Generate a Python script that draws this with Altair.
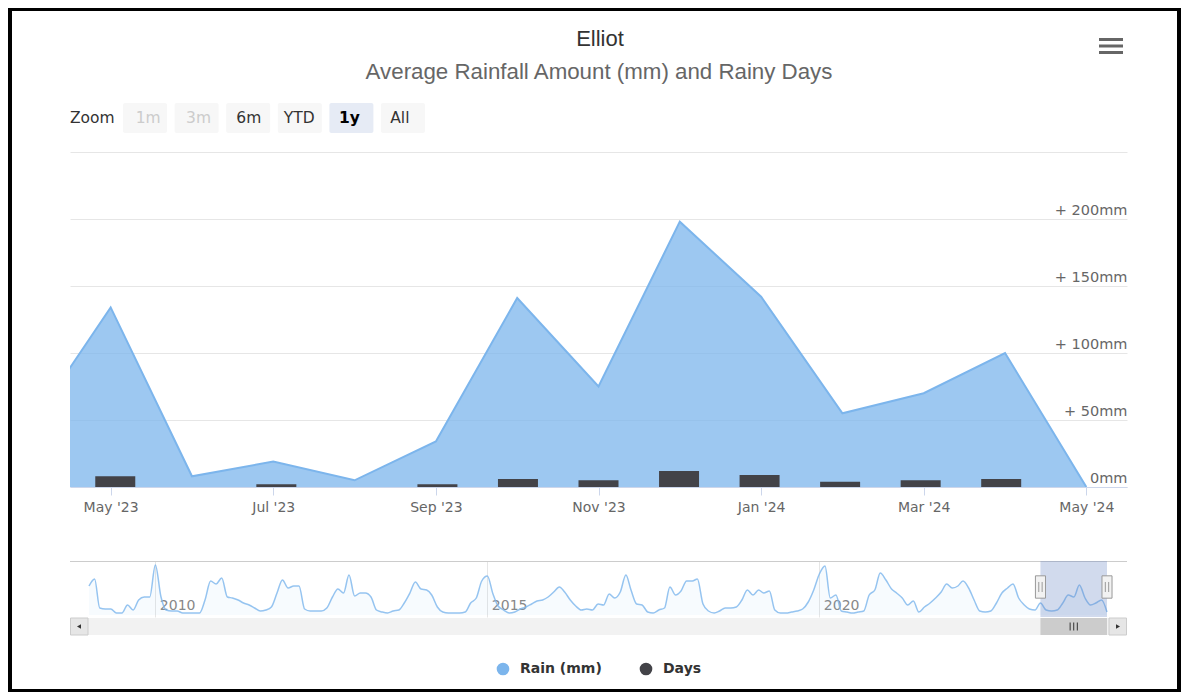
import json
import pandas as pd
import altair as alt

# ---------------- data ----------------
title_text = "Elliot"
subtitle_text = "Average Rainfall Amount (mm) and Rainy Days"

month_labels = ["Apr '23", "May '23", "Jun '23", "Jul '23", "Aug '23", "Sep '23", "Oct '23",
                "Nov '23", "Dec '23", "Jan '24", "Feb '24", "Mar '24", "Apr '24", "May '24"]
month_index = list(range(-1, 13))
rain_mm = [44, 134, 8, 19, 5, 34, 141, 75, 198, 142, 55, 70, 100, 0]
rainy_days = [None, 8, 0, 2, 0, 2, 6, 5, 12, 9, 4, 5, 6, 0]
x_tick_index = [0, 2, 4, 6, 8, 10, 12]
y_tick_values = [0, 50, 100, 150, 200, 250]

series_names = ["Rain (mm)", "Days"]
series_colors = ["#7cb5ec", "#434348"]

nav_start = "2009-01-01"
nav_end = "2024-05-01"
nav_rain = [
    145, 180, 35, 30, 30, 10, 10, 50, 25, 75, 90, 90,        # 2009
    250, 90, 25, 20, 20, 10, 10, 10, 10, 75, 170, 155,      # 2010
    185, 90, 85, 75, 60, 50, 35, 20, 25, 40, 110, 175,      # 2011
    135, 145, 145, 30, 20, 20, 20, 35, 90, 130, 110, 200,   # 2012
    95, 110, 110, 90, 25, 15, 10, 20, 25, 60, 110, 165,     # 2013
    130, 125, 100, 40, 15, 10, 10, 10, 15, 60, 85, 170,     # 2014
    195, 105, 45, 25, 10, 15, 30, 40, 55, 70, 75, 90,       # 2015
    115, 140, 115, 75, 45, 25, 30, 25, 55, 50, 105, 85,     # 2016
    115, 200, 125, 55, 50, 15, 10, 25, 35, 140, 100, 120,   # 2017
    170, 170, 180, 55, 20, 10, 20, 35, 35, 40, 75, 125,     # 2018
    100, 125, 110, 120, 25, 10, 10, 15, 20, 30, 65, 125,    # 2019
    205, 245, 85, 100, 20, 15, 10, 15, 20, 100, 125, 210,   # 2020
    175, 130, 110, 85, 50, 70, 15, 40, 60, 85, 115, 155,    # 2021
    135, 145, 170, 135, 75, 20, 15, 20, 60, 110, 135, 155,  # 2022
    85, 50, 30, 25, 60, 25, 20, 25, 60, 100, 90, 150,       # 2023
    85, 50, 60, 75, 15,                                     # 2024
]
nav_year_ticks = [2010, 2015, 2020]
sel_start = "2023-05-01"
sel_end = "2024-05-01"

zoom_label = "Zoom"
zoom_buttons = ["1m", "3m", "6m", "YTD", "1y", "All"]
disabled_buttons = ["1m", "3m"]
selected_button = "1y"

# ---------------- frames ----------------
main_df = pd.DataFrame({"mi": month_index, "label": month_labels,
                        "rain": rain_mm, "days": rainy_days})
nav_dates = pd.date_range(nav_start, nav_end, freq="MS")
nav_df = pd.DataFrame({"date": nav_dates, "rain": nav_rain})
sel_df = pd.DataFrame({"start": [sel_start], "end": [sel_end]})
handle_df = pd.DataFrame({"date": [sel_start, sel_end]})
btn_df = pd.DataFrame({"b": zoom_buttons})
dummy = pd.DataFrame({"k": [0]})


def dt(s):
    t = pd.Timestamp(s)
    return alt.DateTime(year=t.year, month=t.month, date=t.day)


W, H = 1057, 335
PAD = {"left": 62, "top": 144, "right": 54, "bottom": 205}
FONT = "DejaVu Sans"

# ---------------- scales / axes ----------------
x_main = alt.Scale(domain=[-0.5, 12.5], range=[0, W])
y_main = alt.Scale(domain=[0, 250], range=[H, 0])
x_nav = alt.Scale(domain=[dt(nav_start), dt(nav_end)], range=[19, 1037])
y_nav = alt.Scale(domain=[-10, 270], range=[465, 409])
color_scale = alt.Scale(domain=series_names, range=series_colors)

x_axis = alt.Axis(values=x_tick_index, labelExpr=json.dumps(month_labels) + "[datum.value + 1]",
                  title=None, grid=False, domainColor="#ccd6eb", tickColor="#ccd6eb",
                  tickSize=8, labelPadding=5, labelFontSize=14, labelColor="#666666",
                  labelOverlap=False, labelFlush=False)
y_axis = alt.Axis(orient="left", offset=-W, values=y_tick_values,
                  labelExpr="datum.value == 250 ? '' : (datum.value == 0 ? '0mm' : '+ ' + datum.value + 'mm')",
                  title=None, grid=True, gridColor="#e6e6e6", domain=False, ticks=False,
                  tickSize=0, labelPadding=0, labelAlign="right", labelBaseline="alphabetic",
                  labelOffset=-5, labelFontSize=14.5, labelColor="#666666")
nav_axis = alt.Axis(orient="top", offset=-465,
                    values=[alt.DateTime(year=y, month=1, date=1) for y in nav_year_ticks],
                    format="%Y", title=None, grid=True, gridColor="#e6e6e6", domain=False,
                    ticks=False, tickSize=0, labelAlign="left", labelBaseline="bottom",
                    labelPadding=5, labelOffset=4, labelFontSize=14, labelColor="#888888",
                    labelFlush=False, labelOverlap=False)
legend = alt.Legend(orient="none", legendX=426, legendY=510, direction="horizontal", title=None,
                    symbolType="circle", symbolSize=160, symbolOpacity=1, symbolStrokeWidth=0,
                    labelFont=FONT, labelFontSize=14, labelFontWeight="bold",
                    labelColor="#333333", columnPadding=37, labelOffset=10, padding=0)

# ---------------- main chart ----------------
area = alt.Chart(main_df).transform_calculate(series=f"'{series_names[0]}'").mark_area(
    fillOpacity=0.75, clip=True).encode(
    x=alt.X("mi:Q", scale=x_main, axis=x_axis),
    y=alt.Y("rain:Q", scale=y_main, axis=y_axis),
    color=alt.Color("series:N", scale=color_scale, legend=legend))

bars = alt.Chart(main_df).transform_filter("isValid(datum.days)").transform_calculate(
    series=f"'{series_names[1]}'").mark_bar(size=40, clip=True).encode(
    x=alt.X("mi:Q", scale=x_main, axis=None),
    y=alt.Y("days:Q", scale=y_main, axis=None),
    color=alt.Color("series:N", scale=color_scale, legend=legend))

line = alt.Chart(main_df).mark_line(color=series_colors[0], strokeWidth=2, clip=True).encode(
    x=alt.X("mi:Q", scale=x_main, axis=None),
    y=alt.Y("rain:Q", scale=y_main, axis=None))

# ---------------- navigator ----------------
nav_area = alt.Chart(nav_df).mark_area(interpolate="monotone", color="#7cb5ec",
                                        fillOpacity=0.06).encode(
    x=alt.X("date:T", scale=x_nav, axis=nav_axis),
    y=alt.Y("rain:Q", scale=y_nav, axis=None))
nav_line = alt.Chart(nav_df).mark_line(interpolate="monotone", color="#7cb5ec",
                                        strokeWidth=1.5, opacity=0.8).encode(
    x=alt.X("date:T", scale=x_nav, axis=None),
    y=alt.Y("rain:Q", scale=y_nav, axis=None))
nav_outline = alt.Chart(dummy).mark_rule(color="#cccccc", strokeWidth=1).encode(
    x=alt.value(0), x2=alt.value(W), y=alt.value(409.5))
mask = alt.Chart(sel_df).mark_rect(color="#6685c2", opacity=0.3).encode(
    x=alt.X("start:T", scale=x_nav, axis=None), x2="end:T",
    y=alt.value(409), y2=alt.value(465))

handle_path = "M-0.45,-1H0.45V1H-0.45Z"
grip_path = "M-0.15,-0.45V0.45M0.15,-0.45V0.45"
handles = alt.Chart(handle_df).mark_point(shape=handle_path, size=500, filled=True,
                                          fill="#f2f2f2", stroke="#999999", strokeWidth=1,
                                          opacity=1).encode(
    x=alt.X("date:T", scale=x_nav, axis=None), y=alt.value(435))
handle_grips = alt.Chart(handle_df).mark_point(shape=grip_path, size=500, filled=False,
                                               stroke="#999999", strokeWidth=1, opacity=1).encode(
    x=alt.X("date:T", scale=x_nav, axis=None), y=alt.value(435))

# ---------------- scrollbar ----------------
track = alt.Chart(dummy).mark_rect(color="#f2f2f2").encode(
    x=alt.value(0), x2=alt.value(W), y=alt.value(466), y2=alt.value(483))
btn_left = alt.Chart(dummy).mark_rect(fill="#e6e6e6", stroke="#cccccc", strokeWidth=1).encode(
    x=alt.value(0.5), x2=alt.value(18), y=alt.value(466), y2=alt.value(483))
btn_right = alt.Chart(dummy).mark_rect(fill="#e6e6e6", stroke="#cccccc", strokeWidth=1).encode(
    x=alt.value(1039), x2=alt.value(W - 0.5), y=alt.value(466), y2=alt.value(483))
arrow_left = alt.Chart(dummy).mark_point(shape="triangle-left", size=22, filled=True,
                                         color="#333333", opacity=1).encode(
    x=alt.value(9), y=alt.value(474.5))
arrow_right = alt.Chart(dummy).mark_point(shape="triangle-right", size=22, filled=True,
                                          color="#333333", opacity=1).encode(
    x=alt.value(1048), y=alt.value(474.5))
thumb = alt.Chart(sel_df).mark_rect(color="#cccccc").encode(
    x=alt.X("start:T", scale=x_nav, axis=None), x2="end:T",
    y=alt.value(466), y2=alt.value(483))
thumb_grip = alt.Chart(sel_df).transform_calculate(
    mid="(time(datum.start) + time(datum.end)) / 2").mark_point(
    shape="M-0.9,-1V1M0,-1V1M0.9,-1V1", size=64, filled=False, stroke="#333333",
    strokeWidth=1, opacity=1).encode(
    x=alt.X("mid:T", scale=x_nav, axis=None), y=alt.value(474.5))

# ---------------- titles / buttons / menu ----------------
title = alt.Chart(dummy).mark_text(text=title_text, font="Liberation Sans", fontSize=22,
                                   color="#333333", align="center", baseline="middle").encode(
    x=alt.value(530), y=alt.value(-113))
subtitle = alt.Chart(dummy).mark_text(text=subtitle_text, font="Liberation Sans", fontSize=22.3,
                                      color="#666666", align="center", baseline="middle").encode(
    x=alt.value(529), y=alt.value(-80))
zoom_txt = alt.Chart(dummy).mark_text(text=zoom_label, font=FONT, fontSize=15.5, color="#333333",
                                      align="left", baseline="middle").encode(
    x=alt.value(0), y=alt.value(-34))

btn_scale = alt.Scale(domain=zoom_buttons, range=[53, 355], paddingInner=0.147, paddingOuter=0)
btn_rects = alt.Chart(btn_df).mark_rect(cornerRadius=2).encode(
    x=alt.X("b:N", scale=btn_scale, axis=None, sort=zoom_buttons),
    y=alt.value(-49), y2=alt.value(-19),
    color=alt.condition(alt.datum.b == selected_button, alt.value("#e6ebf5"), alt.value("#f7f7f7")))
btn_text = alt.Chart(btn_df).transform_filter(alt.datum.b != selected_button).mark_text(
    font=FONT, fontSize=15.5, baseline="middle", align="center").encode(
    x=alt.X("b:N", scale=btn_scale, axis=None, sort=zoom_buttons),
    y=alt.value(-34), text="b:N",
    color=alt.condition(alt.FieldOneOfPredicate(field="b", oneOf=disabled_buttons),
                        alt.value("#cccccc"), alt.value("#333333")))
btn_sel_text = alt.Chart(btn_df).transform_filter(alt.datum.b == selected_button).mark_text(
    font=FONT, fontSize=15.5, fontWeight="bold", baseline="middle", align="center",
    color="#000000").encode(
    x=alt.X("b:N", scale=btn_scale, axis=None, sort=zoom_buttons),
    y=alt.value(-34), text="b:N")

menu = [alt.Chart(dummy).mark_rule(color="#666666", strokeWidth=3).encode(
    x=alt.value(1029), x2=alt.value(1053), y=alt.value(yy)) for yy in (-112.5, -106, -99.5)]

# black frame around the picture
frame = [
    alt.Chart(dummy).mark_rect(color="black").encode(x=alt.value(-62), x2=alt.value(-58), y=alt.value(-144), y2=alt.value(540)),
    alt.Chart(dummy).mark_rect(color="black").encode(x=alt.value(1107), x2=alt.value(1111), y=alt.value(-144), y2=alt.value(540)),
    alt.Chart(dummy).mark_rect(color="black").encode(x=alt.value(-62), x2=alt.value(1111), y=alt.value(-144), y2=alt.value(-141)),
    alt.Chart(dummy).mark_rect(color="black").encode(x=alt.value(-62), x2=alt.value(1111), y=alt.value(537), y2=alt.value(540)),
]

chart = alt.layer(
    area, bars, line,
    nav_area, nav_line, nav_outline, mask, handles, handle_grips,
    track, btn_left, btn_right, arrow_left, arrow_right, thumb, thumb_grip,
    title, subtitle, zoom_txt, btn_rects, btn_text, btn_sel_text,
    *menu, *frame,
).resolve_scale(x="independent", y="independent").properties(
    width=W, height=H, padding=PAD, autosize=alt.AutoSizeParams(type="none"),
).configure(background="white", font=FONT).configure_view(stroke=None).configure_axis(
    labelFont=FONT)

chart.save("out.html", embed_options={"renderer": "svg", "actions": False})
